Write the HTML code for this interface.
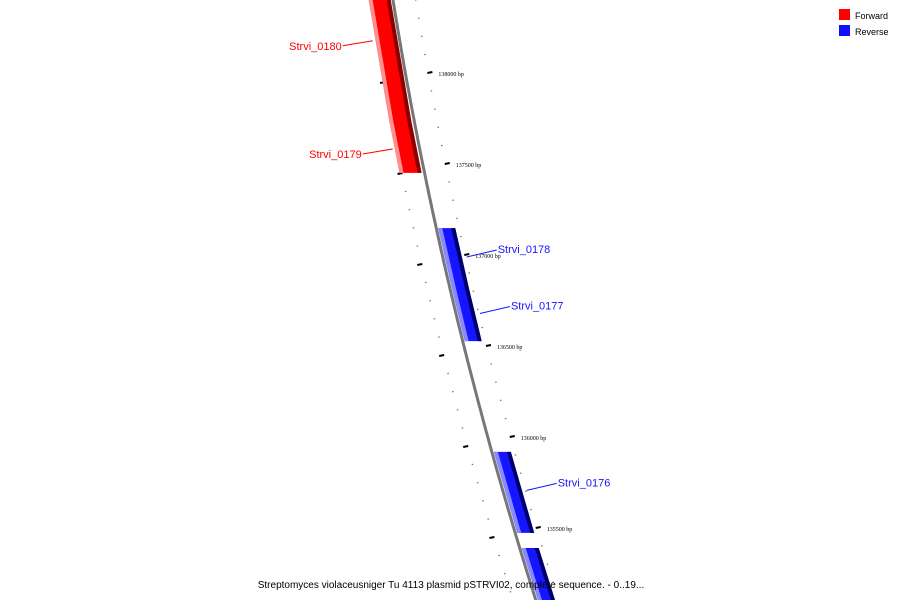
<!DOCTYPE html>
<html><head><meta charset="utf-8"><style>
html,body{margin:0;padding:0;background:#fff;}
svg{display:block;font-family:"Liberation Sans","DejaVu Sans",sans-serif;}
</style></head><body>
<svg id="c" width="900" height="600" viewBox="0 0 900 600">
<g id="ticks"></g>
<g id="genes"></g>
<path id="bb" fill="none" stroke="#777" stroke-width="3"/>
<g id="labels"></g>
<g>
<rect x="839" y="9" width="11" height="11" fill="#ff0000"/>
<text x="855" y="19" font-size="9">Forward</text>
<rect x="839" y="25" width="11" height="11" fill="#1010ff"/>
<text x="855" y="35" font-size="9">Reverse</text>
</g>
<text x="451" y="588" font-size="10" text-anchor="middle">Streptomyces violaceusniger Tu 4113 plasmid pSTRVI02, complete sequence. - 0..19...</text>
</svg>
<script>
const tickBp=[138500,138000,137500,137000,136500,136000,135500,135000];
const geneNames=["Strvi_0180","Strvi_0179","Strvi_0178","Strvi_0177","Strvi_0176","Strvi_0175"];
const geneStart=[138640,137736,137148,136808,135918,135390];
const geneEnd=[137736,137451,136808,136527,135473,134950];
const geneStrand=[1,1,-1,-1,-1,-1];
const geneLabelShown=[true,true,true,true,true,false];
const NS="http://www.w3.org/2000/svg";
function yOf(bp){return 73+(138000-bp)*0.182;}
function xOf(y){return 393+0.16*y+0.00013*y*y;}
function mk(t,a,p){const e=document.createElementNS(NS,t);for(const k in a)e.setAttribute(k,a[k]);p.appendChild(e);return e;}
let d="";for(let y=-5;y<=605;y+=5){d+=(y<0?"M":"L")+xOf(y).toFixed(1)+","+y+" ";}
document.getElementById('bb').setAttribute('d',d);
const tg=document.getElementById('ticks');
for(let i=0;i<tickBp.length-1;i++){
  for(let k=0;k<5;k++){
    const bp=tickBp[i]-k*100;const y=yOf(bp);const x=xOf(y);
    const major=k===0;
    const r=mk('line',{x1:x+22,y1:y,x2:x+(major?27:23.5),y2:y-(major?1:0.5),stroke:major?'#000':'#777','stroke-width':major?2:1.2},tg);
    
    
    const yl=y+9;const xl=xOf(yl);
    const l=mk('line',{x1:xl-22,y1:yl,x2:xl-(major?27:23.5),y2:yl+(major?1:0.5),stroke:major?'#000':'#777','stroke-width':major?2:1.2},tg);
    
    
    if(major){
      const t=mk('text',{x:x+33,y:y+3,'font-size':6,fill:'#000','font-family':'Liberation Serif, serif'},tg);
      t.textContent=bp+" bp";
      
      
    }
  }
}
const gg=document.getElementById('genes'),lg=document.getElementById('labels');
for(let i=0;i<geneNames.length;i++){
  const y1=yOf(geneStart[i]),y2=yOf(geneEnd[i]);
  const fw=geneStrand[i]>0;
  const o1=fw?-25:2,o2=fw?-3:19;
  const col=fw?'#ff0000':'#1515ff',light=fw?'#ff9090':'#8a8aff',dark=fw?'#8a0000':'#00006a';
  const pts=(a,b)=>[[xOf(y1)+a,y1],[xOf(y1)+b,y1],[xOf(y2)+b,y2],[xOf(y2)+a,y2]].map(p=>p.join(',')).join(' ');
  const g=mk('g',{},gg);
  
  
  mk('polygon',{points:pts(o1,o2),fill:col},g);
  mk('polygon',{points:pts(o1,o1+4),fill:light},g);
  mk('polygon',{points:pts(o2-4,o2),fill:dark},g);
  if(geneLabelShown[i]){
    const ym=(y1+y2)/2+(fw?2:-2);
    const xa=xOf(ym)+(fw?o1-2:o2+5);
    const tx=fw?xa-30:xa+30, ty=fw?ym+5:ym-7;
    const ln=mk('line',{x1:xa,y1:ym,x2:tx,y2:ty,stroke:col,'stroke-width':1},lg);
    
    
    const t=mk('text',{x:fw?tx-1:tx+1,y:fw?ty+4:ty+3,'font-size':11,fill:col,'text-anchor':fw?'end':'start'},lg);
    t.textContent=geneNames[i];
    
    
  }
}
</script>
</body></html>
